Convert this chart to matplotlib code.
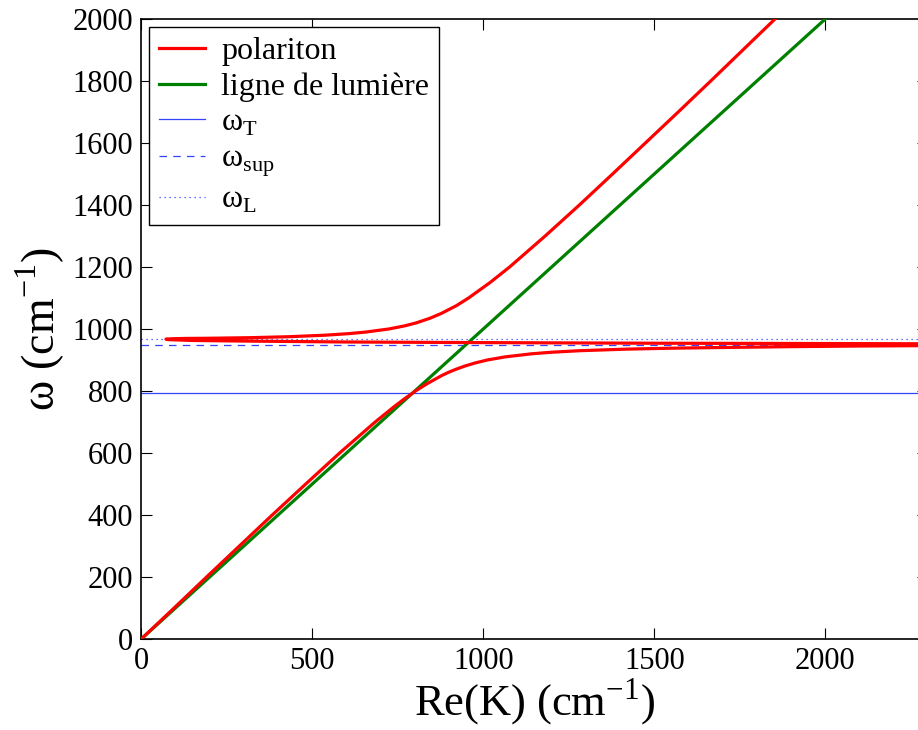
import matplotlib.pyplot as plt
import numpy as np

plt.rcParams['font.family'] = ['Liberation Serif', 'DejaVu Serif']
plt.rcParams['mathtext.fontset'] = 'custom'
plt.rcParams['mathtext.rm'] = 'Liberation Serif'

# polariton branch, Re(K) and omega (cm-1)
pol_k = [0, 96, 191, 287, 383, 481, 580, 684, 740, 770, 783, 793, 802, 816, 838,
         879, 898, 920, 945, 975, 1012, 1064, 1142, 1200, 1284, 1419,
         1550, 1680, 1900, 2100, 2400,
         2400, 2000, 1500, 1000, 600, 300, 150, 80, 72, 90, 130, 194, 322, 431,
         539, 607, 656, 724, 770, 805, 845, 877, 921, 957, 1020, 1077, 1181,
         1281, 1378, 1474, 1570, 1665, 1759, 1853, 1946]
pol_w = [0, 100, 200, 300, 400, 500, 600, 700, 750, 775, 785, 793, 800, 810, 825,
         850, 860, 870, 880, 890, 900, 910, 920, 925, 930, 935,
         938, 940, 943, 945, 947,
         952, 953, 954, 956, 958, 961, 963, 965.5, 967, 968.5, 969.5, 970, 972, 975,
         980, 985, 990, 1000, 1010, 1020, 1035, 1050, 1075, 1100, 1150, 1200, 1300,
         1400, 1500, 1600, 1700, 1800, 1900, 2000, 2100]

light_k = [0, 2000]
light_w = [0, 2000]

w_T = 793
w_sup = 948
w_L = 969

fig = plt.figure(figsize=(9.18, 7.30), dpi=100)
ax = fig.add_axes([0.1539, 0.1247, 0.8569, 0.8493])

ax.plot(pol_k, pol_w, color='red', lw=2.3, label='polariton', zorder=4)
ax.plot(light_k, light_w, color='green', lw=2.3, label='ligne de lumière', zorder=3)
ax.axhline(w_T, color='#3344ff', lw=0.9, label='ω$_{\\mathrm{T}}$')
ax.axhline(w_sup, color='#3344ff', lw=0.9, ls=(0, (6, 5)), label='ω$_{\\mathrm{sup}}$')
ax.axhline(w_L, color='#3344ff', lw=0.9, ls=(0, (1, 3)), label='ω$_{\\mathrm{L}}$')

ax.set_xlim(0, 2300)
ax.set_ylim(0, 2000)
ax.set_xticks([0, 500, 1000, 1500, 2000])
ax.set_yticks(np.arange(0, 2001, 200))
ax.tick_params(direction='in', top=True, right=True, length=8, width=0.8,
               labelsize=22, pad=6)
for s in ax.spines.values():
    s.set_linewidth(1.2)

ax.set_xlabel('Re(K) (cm$^{-1}$)', fontsize=32, labelpad=0)
ax.set_ylabel('ω (cm$^{-1}$)', fontsize=33, labelpad=4)

leg = ax.legend(loc='upper left', fontsize=23, frameon=True, fancybox=False,
                edgecolor='black', framealpha=1, borderaxespad=0.25,
                handlelength=1.45, handletextpad=0.5, labelspacing=0.2,
                borderpad=0.3)
leg.get_frame().set_linewidth(1.0)

plt.savefig('out.png', dpi=100)
print("Done")
